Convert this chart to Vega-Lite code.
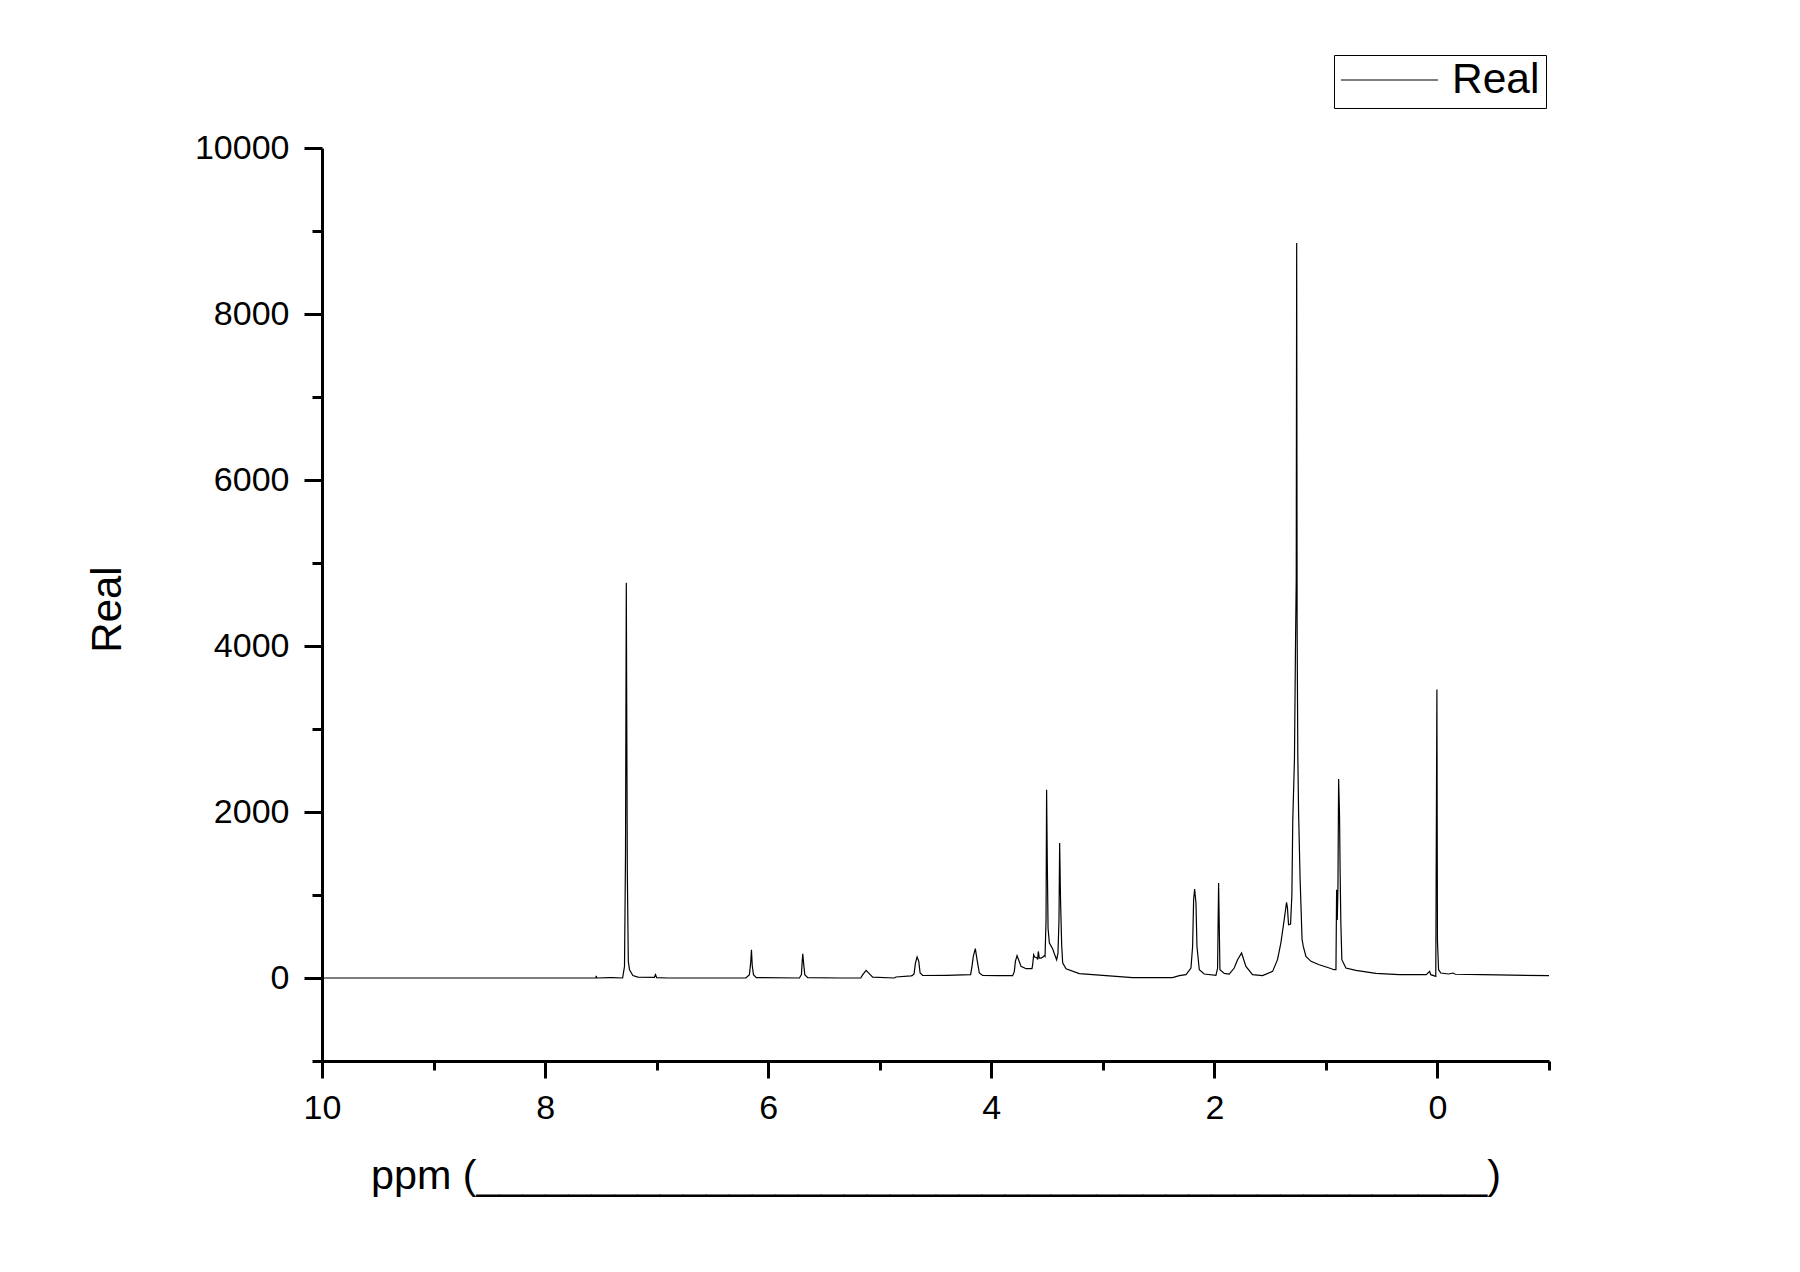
{
  "$schema": "https://vega.github.io/schema/vega-lite/v6.json",
  "autosize": {"type": "none"},
  "padding": {"left": 322, "top": 148, "right": 251, "bottom": 211},
  "width": 1227,
  "height": 913,
  "background": "white",
  "config": {
    "view": {"stroke": null},
    "font": "Liberation Sans",
    "axis": {
      "labelFont": "Liberation Sans",
      "titleFont": "Liberation Sans",
      "labelColor": "black",
      "titleColor": "black",
      "domainColor": "black",
      "tickColor": "black",
      "domainWidth": 3,
      "tickWidth": 3,
      "grid": false,
      "labelFontSize": 34,
      "titleFontSize": 41,
      "titleFontWeight": "normal",
      "labelOverlap": false,
      "labelFlush": false
    }
  },
  "data": {
    "values": [
      {"ppm": 10.0, "val": 0, "series": "Real"},
      {"ppm": 7.60, "val": 0, "series": "Real"},
      {"ppm": 7.545, "val": 0, "series": "Real"},
      {"ppm": 7.541, "val": 25, "series": "Real"},
      {"ppm": 7.537, "val": 0, "series": "Real"},
      {"ppm": 7.42, "val": 5, "series": "Real"},
      {"ppm": 7.40, "val": 5, "series": "Real"},
      {"ppm": 7.305, "val": 0, "series": "Real"},
      {"ppm": 7.288, "val": 140, "series": "Real"},
      {"ppm": 7.279, "val": 1500, "series": "Real"},
      {"ppm": 7.272, "val": 4763, "series": "Real"},
      {"ppm": 7.263, "val": 1300, "series": "Real"},
      {"ppm": 7.254, "val": 200, "series": "Real"},
      {"ppm": 7.243, "val": 100, "series": "Real"},
      {"ppm": 7.213, "val": 30, "series": "Real"},
      {"ppm": 7.168, "val": 10, "series": "Real"},
      {"ppm": 7.02, "val": 8, "series": "Real"},
      {"ppm": 7.010, "val": 40, "series": "Real"},
      {"ppm": 7.000, "val": 5, "series": "Real"},
      {"ppm": 6.90, "val": 0, "series": "Real"},
      {"ppm": 6.20, "val": 0, "series": "Real"},
      {"ppm": 6.168, "val": 40, "series": "Real"},
      {"ppm": 6.156, "val": 200, "series": "Real"},
      {"ppm": 6.150, "val": 341, "series": "Real"},
      {"ppm": 6.143, "val": 150, "series": "Real"},
      {"ppm": 6.132, "val": 40, "series": "Real"},
      {"ppm": 6.107, "val": 5, "series": "Real"},
      {"ppm": 5.72, "val": 0, "series": "Real"},
      {"ppm": 5.702, "val": 40, "series": "Real"},
      {"ppm": 5.695, "val": 200, "series": "Real"},
      {"ppm": 5.690, "val": 293, "series": "Real"},
      {"ppm": 5.684, "val": 200, "series": "Real"},
      {"ppm": 5.672, "val": 40, "series": "Real"},
      {"ppm": 5.645, "val": 5, "series": "Real"},
      {"ppm": 5.35, "val": 0, "series": "Real"},
      {"ppm": 5.17, "val": 0, "series": "Real"},
      {"ppm": 5.152, "val": 40, "series": "Real"},
      {"ppm": 5.122, "val": 92, "series": "Real"},
      {"ppm": 5.092, "val": 50, "series": "Real"},
      {"ppm": 5.063, "val": 10, "series": "Real"},
      {"ppm": 4.87, "val": 0, "series": "Real"},
      {"ppm": 4.853, "val": 12, "series": "Real"},
      {"ppm": 4.72, "val": 25, "series": "Real"},
      {"ppm": 4.710, "val": 28, "series": "Real"},
      {"ppm": 4.692, "val": 50, "series": "Real"},
      {"ppm": 4.680, "val": 180, "series": "Real"},
      {"ppm": 4.665, "val": 253, "series": "Real"},
      {"ppm": 4.650, "val": 200, "series": "Real"},
      {"ppm": 4.638, "val": 60, "series": "Real"},
      {"ppm": 4.615, "val": 30, "series": "Real"},
      {"ppm": 4.40, "val": 32, "series": "Real"},
      {"ppm": 4.185, "val": 40, "series": "Real"},
      {"ppm": 4.172, "val": 150, "series": "Real"},
      {"ppm": 4.161, "val": 260, "series": "Real"},
      {"ppm": 4.143, "val": 353, "series": "Real"},
      {"ppm": 4.125, "val": 200, "series": "Real"},
      {"ppm": 4.107, "val": 60, "series": "Real"},
      {"ppm": 4.077, "val": 30, "series": "Real"},
      {"ppm": 3.93, "val": 28, "series": "Real"},
      {"ppm": 3.808, "val": 28, "series": "Real"},
      {"ppm": 3.793, "val": 80, "series": "Real"},
      {"ppm": 3.784, "val": 200, "series": "Real"},
      {"ppm": 3.769, "val": 269, "series": "Real"},
      {"ppm": 3.755, "val": 220, "series": "Real"},
      {"ppm": 3.733, "val": 140, "series": "Real"},
      {"ppm": 3.688, "val": 112, "series": "Real"},
      {"ppm": 3.635, "val": 112, "series": "Real"},
      {"ppm": 3.629, "val": 160, "series": "Real"},
      {"ppm": 3.620, "val": 280, "series": "Real"},
      {"ppm": 3.610, "val": 250, "series": "Real"},
      {"ppm": 3.599, "val": 250, "series": "Real"},
      {"ppm": 3.584, "val": 230, "series": "Real"},
      {"ppm": 3.578, "val": 320, "series": "Real"},
      {"ppm": 3.570, "val": 240, "series": "Real"},
      {"ppm": 3.554, "val": 240, "series": "Real"},
      {"ppm": 3.539, "val": 250, "series": "Real"},
      {"ppm": 3.525, "val": 270, "series": "Real"},
      {"ppm": 3.518, "val": 260, "series": "Real"},
      {"ppm": 3.509, "val": 700, "series": "Real"},
      {"ppm": 3.504, "val": 2269, "series": "Real"},
      {"ppm": 3.498, "val": 1425, "series": "Real"},
      {"ppm": 3.491, "val": 600, "series": "Real"},
      {"ppm": 3.479, "val": 421, "series": "Real"},
      {"ppm": 3.449, "val": 350, "series": "Real"},
      {"ppm": 3.431, "val": 280, "series": "Real"},
      {"ppm": 3.414, "val": 220, "series": "Real"},
      {"ppm": 3.402, "val": 300, "series": "Real"},
      {"ppm": 3.393, "val": 700, "series": "Real"},
      {"ppm": 3.387, "val": 1626, "series": "Real"},
      {"ppm": 3.381, "val": 1100, "series": "Real"},
      {"ppm": 3.378, "val": 883, "series": "Real"},
      {"ppm": 3.369, "val": 400, "series": "Real"},
      {"ppm": 3.360, "val": 184, "series": "Real"},
      {"ppm": 3.330, "val": 112, "series": "Real"},
      {"ppm": 3.211, "val": 52, "series": "Real"},
      {"ppm": 3.031, "val": 34, "series": "Real"},
      {"ppm": 2.733, "val": 4, "series": "Real"},
      {"ppm": 2.375, "val": 4, "series": "Real"},
      {"ppm": 2.314, "val": 28, "series": "Real"},
      {"ppm": 2.254, "val": 40, "series": "Real"},
      {"ppm": 2.210, "val": 120, "series": "Real"},
      {"ppm": 2.195, "val": 380, "series": "Real"},
      {"ppm": 2.186, "val": 943, "series": "Real"},
      {"ppm": 2.177, "val": 1072, "series": "Real"},
      {"ppm": 2.165, "val": 907, "series": "Real"},
      {"ppm": 2.156, "val": 380, "series": "Real"},
      {"ppm": 2.135, "val": 100, "series": "Real"},
      {"ppm": 2.091, "val": 48, "series": "Real"},
      {"ppm": 1.986, "val": 32, "series": "Real"},
      {"ppm": 1.971, "val": 120, "series": "Real"},
      {"ppm": 1.962, "val": 1145, "series": "Real"},
      {"ppm": 1.950, "val": 100, "series": "Real"},
      {"ppm": 1.911, "val": 56, "series": "Real"},
      {"ppm": 1.867, "val": 48, "series": "Real"},
      {"ppm": 1.822, "val": 120, "series": "Real"},
      {"ppm": 1.792, "val": 221, "series": "Real"},
      {"ppm": 1.756, "val": 301, "series": "Real"},
      {"ppm": 1.717, "val": 140, "series": "Real"},
      {"ppm": 1.658, "val": 40, "series": "Real"},
      {"ppm": 1.568, "val": 28, "series": "Real"},
      {"ppm": 1.478, "val": 80, "series": "Real"},
      {"ppm": 1.434, "val": 221, "series": "Real"},
      {"ppm": 1.404, "val": 421, "series": "Real"},
      {"ppm": 1.374, "val": 702, "series": "Real"},
      {"ppm": 1.353, "val": 911, "series": "Real"},
      {"ppm": 1.345, "val": 850, "series": "Real"},
      {"ppm": 1.335, "val": 642, "series": "Real"},
      {"ppm": 1.317, "val": 650, "series": "Real"},
      {"ppm": 1.305, "val": 1004, "series": "Real"},
      {"ppm": 1.297, "val": 1907, "series": "Real"},
      {"ppm": 1.282, "val": 2630, "series": "Real"},
      {"ppm": 1.272, "val": 4100, "series": "Real"},
      {"ppm": 1.266, "val": 4800, "series": "Real"},
      {"ppm": 1.262, "val": 8855, "series": "Real"},
      {"ppm": 1.258, "val": 4200, "series": "Real"},
      {"ppm": 1.252, "val": 2700, "series": "Real"},
      {"ppm": 1.245, "val": 2000, "series": "Real"},
      {"ppm": 1.232, "val": 1224, "series": "Real"},
      {"ppm": 1.214, "val": 470, "series": "Real"},
      {"ppm": 1.203, "val": 381, "series": "Real"},
      {"ppm": 1.179, "val": 261, "series": "Real"},
      {"ppm": 1.134, "val": 201, "series": "Real"},
      {"ppm": 1.060, "val": 160, "series": "Real"},
      {"ppm": 0.970, "val": 120, "series": "Real"},
      {"ppm": 0.926, "val": 100, "series": "Real"},
      {"ppm": 0.910, "val": 100, "series": "Real"},
      {"ppm": 0.904, "val": 1064, "series": "Real"},
      {"ppm": 0.898, "val": 700, "series": "Real"},
      {"ppm": 0.892, "val": 1100, "series": "Real"},
      {"ppm": 0.886, "val": 2398, "series": "Real"},
      {"ppm": 0.878, "val": 1967, "series": "Real"},
      {"ppm": 0.872, "val": 1224, "series": "Real"},
      {"ppm": 0.866, "val": 663, "series": "Real"},
      {"ppm": 0.857, "val": 221, "series": "Real"},
      {"ppm": 0.821, "val": 120, "series": "Real"},
      {"ppm": 0.731, "val": 92, "series": "Real"},
      {"ppm": 0.552, "val": 56, "series": "Real"},
      {"ppm": 0.343, "val": 40, "series": "Real"},
      {"ppm": 0.10, "val": 40, "series": "Real"},
      {"ppm": 0.07, "val": 80, "series": "Real"},
      {"ppm": 0.06, "val": 40, "series": "Real"},
      {"ppm": 0.015, "val": 20, "series": "Real"},
      {"ppm": 0.005, "val": 3476, "series": "Real"},
      {"ppm": 0.000, "val": 450, "series": "Real"},
      {"ppm": -0.010, "val": 100, "series": "Real"},
      {"ppm": -0.03, "val": 60, "series": "Real"},
      {"ppm": -0.10, "val": 48, "series": "Real"},
      {"ppm": -0.14, "val": 60, "series": "Real"},
      {"ppm": -0.16, "val": 45, "series": "Real"},
      {"ppm": -0.40, "val": 40, "series": "Real"},
      {"ppm": -1.0, "val": 28, "series": "Real"}
    ]
  },
  "mark": {"type": "line", "strokeWidth": 1.2, "interpolate": "linear"},
  "encoding": {
    "x": {
      "field": "ppm",
      "type": "quantitative",
      "scale": {"domain": [10, -1], "nice": false, "zero": false},
      "axis": {
        "title": "ppm (____________________________________________)",
        "titleFontSize": 41.3,
        "values": [10, 9, 8, 7, 6, 5, 4, 3, 2, 1, 0, -1],
        "labelExpr": "datum.value % 2 === 0 ? datum.label : ''",
        "tickSize": {"condition": {"test": "datum.value % 2 === 0", "value": 17}, "value": 9},
        "labelPadding": 13,
        "titlePadding": 30
      }
    },
    "y": {
      "field": "val",
      "type": "quantitative",
      "scale": {"domain": [-1000, 10000], "nice": false, "zero": false},
      "axis": {
        "title": "Real",
        "titleFontSize": 42,
        "titleY": 461,
        "values": [-1000, 0, 1000, 2000, 3000, 4000, 5000, 6000, 7000, 8000, 9000, 10000],
        "format": "d",
        "labelExpr": "datum.value % 2000 === 0 ? datum.label : ''",
        "tickSize": {"condition": {"test": "datum.value % 2000 === 0", "value": 18}, "value": 10},
        "labelPadding": 15,
        "titlePadding": 65
      }
    },
    "color": {
      "field": "series",
      "type": "nominal",
      "scale": {"range": ["black"]},
      "legend": {
        "orient": "none",
        "legendX": 1012,
        "legendY": -93,
        "title": null,
        "symbolType": "stroke",
        "symbolSize": 9409,
        "symbolStrokeWidth": 1.2,
        "symbolStrokeColor": "black",
        "labelFont": "Liberation Sans",
        "labelFontSize": 42.5,
        "labelColor": "black",
        "labelOffset": 13,
        "padding": 6,
        "strokeColor": "black",
        "clipHeight": 38
      }
    }
  }
}
